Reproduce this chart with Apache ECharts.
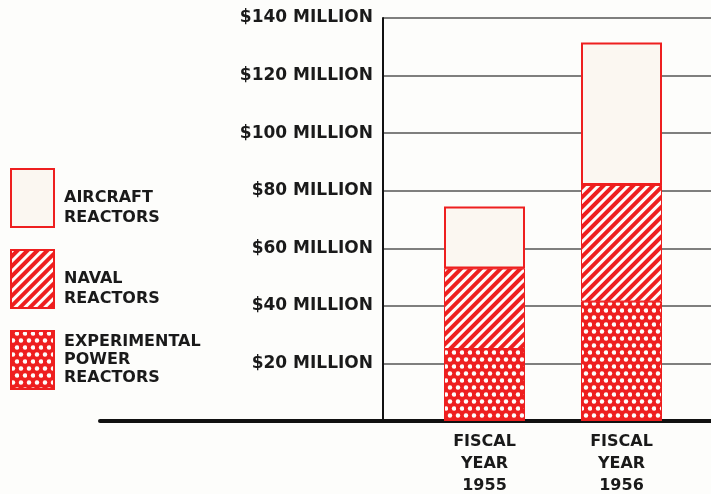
<!DOCTYPE html>
<html><head><meta charset="utf-8">
<script src="https://cdn.jsdelivr.net/npm/echarts@6/dist/echarts.min.js"></script>
<style>html,body{margin:0;padding:0;background:#fdfdfb}#c{width:711px;height:494px}</style>
</head><body><div id="c"></div>
<script>
const categories = ['FISCAL\nYEAR\n1955', 'FISCAL\nYEAR\n1956'];
const experimentalPower = [25, 41.5];
const naval = [28, 40.5];
const aircraft = [21.5, 49.5];
const yMin = 0, yMax = 140, yStep = 20;
const names = {
  exp: 'EXPERIMENTAL\nPOWER\nREACTORS',
  nav: 'NAVAL\nREACTORS',
  air: 'AIRCRAFT\nREACTORS'
};

const RED = '#ee1f1f';
const FONT = 'DejaVu Sans';
const TOP = 18, BOTTOM = 73;
const gridBase = {top: TOP, bottom: BOTTOM, containLabel: false, outerBoundsMode: 'none'};

const chart = echarts.init(document.getElementById('c'), null, {renderer: 'canvas'});
chart.setOption({
  backgroundColor: '#fdfdfb',
  animation: false,
  legend: {
    orient: 'vertical', left: 5, top: 163,
    itemWidth: 43, itemHeight: 58, itemGap: 21,
    icon: 'rect',
    formatter: n => n === names.exp ? n : '\n' + n,
    textStyle: {fontFamily: FONT, fontSize: 16, fontWeight: 'bold', color: '#1a1a1a', lineHeight: 18},
    data: [
      {name: names.air, textStyle: {lineHeight: 20, padding: [0, 0, 0, 5]}},
      {name: names.nav, textStyle: {lineHeight: 20, padding: [0, 0, 0, 5]}},
      {name: names.exp, textStyle: {lineHeight: 18, padding: [0, 0, 0, 5]}}
    ]
  },
  grid: [
    Object.assign({left: 416, right: 21}, gridBase),
    Object.assign({left: 383, right: 0}, gridBase),
    Object.assign({left: 100, right: 0}, gridBase)
  ],
  xAxis: [
    {type: 'category', gridIndex: 0, data: categories,
     axisLine: {show: false}, axisTick: {show: false},
     axisLabel: {fontFamily: FONT, fontSize: 16, fontWeight: 'bold', color: '#1a1a1a', lineHeight: 22, margin: 10}},
    {type: 'value', gridIndex: 1, show: false},
    {type: 'value', gridIndex: 2, min: 0, max: 1,
     axisLine: {show: true, lineStyle: {color: '#111', width: 4}},
     axisTick: {show: false}, axisLabel: {show: false}, splitLine: {show: false}}
  ],
  yAxis: [
    {type: 'value', gridIndex: 0, min: yMin, max: yMax, interval: yStep, show: false},
    {type: 'value', gridIndex: 1, min: yMin, max: yMax, interval: yStep,
     axisLine: {show: true, lineStyle: {color: '#111', width: 2}},
     axisTick: {show: false},
     axisLabel: {fontFamily: FONT, fontSize: 17, fontWeight: 'bold', color: '#1a1a1a', margin: 10,
       formatter: v => v === 0 ? '' : '$' + v + ' MILLION'},
     splitLine: {show: true, lineStyle: {color: '#555', width: 1.5}}},
    {type: 'value', gridIndex: 2, min: 0, max: 1, show: false}
  ],
  series: [
    {name: names.exp, type: 'bar', stack: 's', xAxisIndex: 0, yAxisIndex: 0,
     data: experimentalPower, barWidth: 81,
     itemStyle: {color: RED, borderColor: RED, borderWidth: 1,
       decal: {symbol: 'circle', symbolSize: 1.1, color: '#fdfdfb',
         dashArrayX: [[4, 4], [0, 4, 4, 0]], dashArrayY: [4.5, 1.5]}}},
    {name: names.nav, type: 'bar', stack: 's', xAxisIndex: 0, yAxisIndex: 0,
     data: naval, barWidth: 81,
     itemStyle: {color: RED, borderColor: RED, borderWidth: 1,
       decal: {symbol: 'rect', symbolSize: 1, color: '#fdfdfb',
         dashArrayX: [1, 0], dashArrayY: [3, 4], rotation: -Math.PI / 4}}},
    {name: names.air, type: 'bar', stack: 's', xAxisIndex: 0, yAxisIndex: 0,
     data: aircraft, barWidth: 81,
     itemStyle: {color: '#fbf7f1', borderColor: RED, borderWidth: 2}}
  ]
});
</script></body></html>
